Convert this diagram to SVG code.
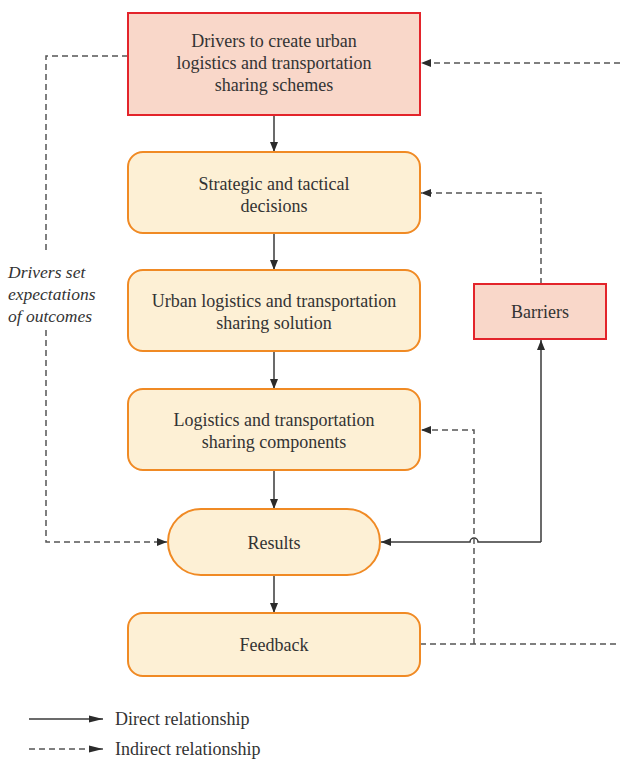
<svg xmlns="http://www.w3.org/2000/svg" width="620" height="759" viewBox="0 0 620 759">
<defs>
<marker id="ah" viewBox="0 0 10 10" refX="10" refY="5" markerWidth="10" markerHeight="10" markerUnits="userSpaceOnUse" orient="auto">
<path d="M0,1 L10,5 L0,9 Z" fill="#2b2b2b"/>
</marker>
<marker id="ahl" viewBox="0 0 14 10" refX="14" refY="5" markerWidth="14" markerHeight="10" markerUnits="userSpaceOnUse" orient="auto">
<path d="M0,1.5 L14,5 L0,8.5 Z" fill="#2b2b2b"/>
</marker>
</defs>
<style>
.red{fill:#f9d7c9;stroke:#e3242b;stroke-width:2}
.org{fill:#fdf0d5;stroke:#f08a24;stroke-width:2}
text{font-family:'Liberation Serif','DejaVu Serif',serif;font-size:18px;fill:#333}
.t{text-anchor:middle}
.it{font-style:italic;font-size:17.5px}
.s{fill:none;stroke:#3a3a3a;stroke-width:1.5}
.d{fill:none;stroke:#555;stroke-width:1.5;stroke-dasharray:6,4}
</style>
<g id="connectors">
<line class="s" x1="274" y1="115" x2="274" y2="152" marker-end="url(#ah)"/>
<line class="s" x1="274" y1="233" x2="274" y2="270" marker-end="url(#ah)"/>
<line class="s" x1="274" y1="351" x2="274" y2="389" marker-end="url(#ah)"/>
<line class="s" x1="274" y1="470" x2="274" y2="509" marker-end="url(#ah)"/>
<line class="s" x1="274" y1="575" x2="274" y2="613" marker-end="url(#ah)"/>
<line class="d" x1="620" y1="63" x2="421" y2="63" marker-end="url(#ah)"/>
<path class="d" d="M128,56 L46,56 L46,252"/>
<path class="d" d="M46,330 L46,542 L167,542" marker-end="url(#ah)"/>
<path class="d" d="M541,284 L541,193 L421,193" marker-end="url(#ah)"/>
<path class="s" d="M541,542 L541,340" marker-end="url(#ah)"/>
<path class="s" d="M541,542 L478,542 A4,4 0 0 0 470,542 L381,542" marker-end="url(#ah)"/>
<path class="d" d="M420,644 L620,644"/>
<path class="d" d="M474,644 L474,430 L421,430" marker-end="url(#ah)"/>
</g>
<g id="drivers">
<rect class="red" x="128" y="13" width="292" height="102"/>
<text class="t" x="274" y="47">Drivers to create urban</text>
<text class="t" x="274" y="69">logistics and transportation</text>
<text class="t" x="274" y="91">sharing schemes</text>
</g>
<g id="strategic">
<rect class="org" x="128" y="152" width="292" height="81" rx="15"/>
<text class="t" x="274" y="190">Strategic and tactical</text>
<text class="t" x="274" y="212">decisions</text>
</g>
<g id="solution">
<rect class="org" x="128" y="270" width="292" height="81" rx="15"/>
<text class="t" x="274" y="307">Urban logistics and transportation</text>
<text class="t" x="274" y="329">sharing solution</text>
</g>
<g id="components">
<rect class="org" x="128" y="389" width="292" height="81" rx="15"/>
<text class="t" x="274" y="426">Logistics and transportation</text>
<text class="t" x="274" y="448">sharing components</text>
</g>
<g id="results">
<rect class="org" x="168" y="509" width="212" height="66" rx="33"/>
<text class="t" x="274" y="549">Results</text>
</g>
<g id="feedback">
<rect class="org" x="128" y="613" width="292" height="63" rx="15"/>
<text class="t" x="274" y="651">Feedback</text>
</g>
<g id="barriers">
<rect class="red" x="474" y="284" width="132" height="55"/>
<text class="t" x="540" y="318">Barriers</text>
</g>
<g id="label">
<text class="it" x="8" y="278">Drivers set</text>
<text class="it" x="8" y="300">expectations</text>
<text class="it" x="8" y="322">of outcomes</text>
</g>
<g id="legend">
<line class="s" x1="29" y1="719" x2="103" y2="719" marker-end="url(#ahl)"/>
<text x="115" y="725">Direct relationship</text>
<line class="d" x1="29" y1="749" x2="103" y2="749" stroke-dasharray="5,3" marker-end="url(#ahl)"/>
<text x="115" y="755">Indirect relationship</text>
</g>
</svg>
